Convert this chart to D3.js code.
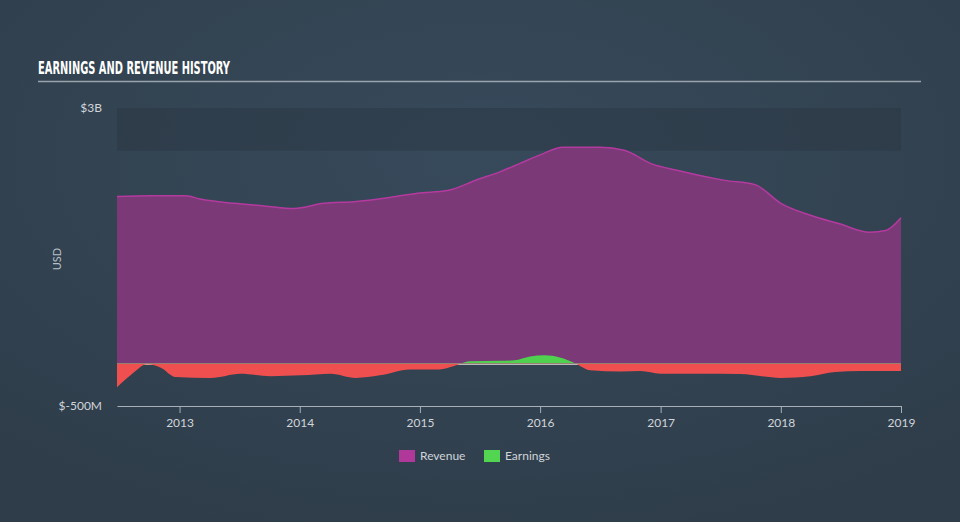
<!DOCTYPE html>
<html>
<head>
<meta charset="utf-8">
<script src="https://cdn.jsdelivr.net/npm/d3@7"></script>
<style>
  html, body { margin: 0; padding: 0; background: #33424f; }
  svg { display: block; }
</style>
</head>
<body>
<div id="plot"></div>
<script>
const width = 960
const height = 522
const margin = ({top: 108, right: 58, bottom: 116, left: 117})

// revenue history (USD billions)
const revenueDates = ["2012-06-25","2012-10-05","2013-01-20","2013-03-05","2013-06-15","2013-09-15","2013-12-15",
  "2014-03-15","2014-06-15","2014-10-01","2014-12-25","2015-03-25","2015-06-25","2015-09-01","2015-11-01",
  "2016-01-01","2016-03-10","2016-07-01","2016-09-15","2016-12-01","2017-03-01","2017-07-15","2017-10-15",
  "2018-01-01","2018-04-01","2018-06-28","2018-09-28","2018-11-15","2019-01-01"]
const revenueValues = [1.96,1.97,1.97,1.93,1.88,1.85,1.82,
  1.88,1.90,1.95,2.00,2.03,2.16,2.25,2.35,
  2.45,2.54,2.54,2.50,2.35,2.26,2.15,2.10,
  1.88,1.74,1.64,1.54,1.56,1.71]

// earnings history (USD billions)
const earningsDates = ["2012-06-25","2012-08-05","2012-09-25","2012-11-05","2012-12-20","2013-04-05","2013-07-05",
  "2013-10-05","2014-01-05","2014-04-05","2014-06-20","2014-09-01","2014-12-01","2015-03-01","2015-04-15",
  "2015-06-01","2015-09-01","2015-10-15","2015-12-01","2016-01-15","2016-03-01","2016-04-15","2016-06-01",
  "2016-09-01","2016-11-01","2017-01-01","2017-05-01","2017-08-30","2018-01-01","2018-04-01","2018-06-15",
  "2018-08-30","2019-01-01"]
const earningsValues = [-0.28,-0.14,-0.01,-0.05,-0.16,-0.17,-0.12,
  -0.15,-0.14,-0.12,-0.17,-0.14,-0.07,-0.07,-0.03,
  0.025,0.03,0.036,0.08,0.095,0.07,0.005,-0.08,
  -0.095,-0.09,-0.12,-0.12,-0.125,-0.17,-0.15,-0.10,
  -0.09,-0.09]

const yTickValues = [3, -0.5]
const yTickLabels = ["$3B", "$-500M"]
const xTickYears = [2013, 2014, 2015, 2016, 2017, 2018, 2019]

const parse = d3.timeParse("%Y-%m-%d")
const revenue = revenueDates.map((d, i) => ({date: parse(d), value: revenueValues[i]}))
const earnings = earningsDates.map((d, i) => ({date: parse(d), value: earningsValues[i]}))

const x = d3.scaleTime()
  .domain([parse("2012-06-25"), parse("2019-01-01")])
  .range([margin.left, width - margin.right - 1])

const y = d3.scaleLinear()
  .domain([-0.5, 3])
  .range([height - margin.bottom, margin.top])

const svg = d3.select("#plot")
  .append("svg")
  .attr("width", width)
  .attr("height", height)

const defs = svg.append("defs")
const grad = defs.append("radialGradient")
  .attr("id", "bg")
  .attr("cx", "50%").attr("cy", "30%").attr("r", "75%")
grad.append("stop").attr("offset", "0%").attr("stop-color", "#374a5b")
grad.append("stop").attr("offset", "100%").attr("stop-color", "#2f3d4a")

svg.append("rect")
  .attr("width", width).attr("height", height)
  .attr("fill", "url(#bg)")

// title
svg.append("text")
  .attr("x", 38).attr("y", 74)
  .attr("fill", "#ffffff")
  .attr("font-family", "DejaVu Sans Condensed, DejaVu Sans")
  .attr("font-weight", "bold")
  .attr("font-size", "17px")
  .attr("textLength", 192)
  .attr("lengthAdjust", "spacingAndGlyphs")
  .text("EARNINGS AND REVENUE HISTORY")

svg.append("line")
  .attr("x1", 38).attr("x2", 921)
  .attr("y1", 81.5).attr("y2", 81.5)
  .attr("stroke", "#9aa4ad")
  .attr("stroke-width", 1.5)

// darker band at top of plot
svg.append("rect")
  .attr("x", margin.left).attr("y", y(3))
  .attr("width", x.range()[1] - margin.left)
  .attr("height", y(2.5) - y(3))
  .attr("fill", "#2b3946")
  .attr("opacity", 0.55)

// clip paths for positive / negative earnings
defs.append("clipPath").attr("id", "above")
  .append("rect")
  .attr("x", margin.left).attr("y", y(3))
  .attr("width", x.range()[1] - margin.left).attr("height", y(0) - y(3))
defs.append("clipPath").attr("id", "below")
  .append("rect")
  .attr("x", margin.left).attr("y", y(0))
  .attr("width", x.range()[1] - margin.left).attr("height", y(-0.5) - y(0))

const curve = d3.curveMonotoneX

const area = d3.area()
  .curve(curve)
  .x(d => x(d.date))
  .y0(y(0))
  .y1(d => y(d.value))

const line = d3.line()
  .curve(curve)
  .x(d => x(d.date))
  .y(d => y(d.value))

svg.append("path")
  .datum(revenue)
  .attr("fill", "#7b3977")
  .attr("d", area)

svg.append("path")
  .datum(revenue)
  .attr("fill", "none")
  .attr("stroke", "#b43aa0")
  .attr("stroke-width", 1.5)
  .attr("d", line)

// zero line, mostly hidden under the red area
svg.append("line")
  .attr("x1", margin.left).attr("x2", x.range()[1])
  .attr("y1", y(0) + 0.8).attr("y2", y(0) + 0.8)
  .attr("stroke", "#b8b8b8")
  .attr("stroke-width", 1.5)

svg.append("path")
  .datum(earnings)
  .attr("clip-path", "url(#above)")
  .attr("fill", "#4fd14f")
  .attr("d", area)

svg.append("path")
  .datum(earnings)
  .attr("clip-path", "url(#below)")
  .attr("fill", "#ef4f4f")
  .attr("d", area)

// x axis
const xAxis = g => g
  .attr("transform", `translate(0,${y(-0.5)})`)
  .call(d3.axisBottom(x)
    .tickValues(xTickYears.map(yr => new Date(yr, 0, 1)))
    .tickFormat(d3.timeFormat("%Y"))
    .tickSize(7)
    .tickSizeOuter(0))
  .call(g => g.select(".domain").attr("stroke", "#a7b0b9").attr("stroke-width", 1.2))
  .call(g => g.selectAll(".tick line").attr("stroke", "#a7b0b9"))
  .call(g => g.selectAll(".tick text")
    .attr("fill", "#d0d5da")
    .attr("font-family", "Lato, Open Sans, sans-serif")
    .attr("font-size", "12px")
    .attr("dy", "0.9em"))

svg.append("g").call(xAxis)

// y labels
svg.append("g")
  .selectAll("text")
  .data(yTickValues)
  .join("text")
  .attr("x", 102)
  .attr("y", d => y(d) + 4)
  .attr("text-anchor", "end")
  .attr("fill", "#d0d5da")
  .attr("font-family", "Lato, Open Sans, sans-serif")
  .attr("font-size", "12px")
  .text((d, i) => yTickLabels[i])

svg.append("text")
  .attr("transform", "translate(61,259) rotate(-90)")
  .attr("text-anchor", "middle")
  .attr("fill", "#b9c0c7")
  .attr("font-family", "Lato, Open Sans, sans-serif")
  .attr("font-size", "11px")
  .text("USD")

// legend
const legend = [
  {name: "Revenue", color: "#b0389b", x: 399},
  {name: "Earnings", color: "#52d652", x: 484}
]
const lg = svg.append("g")
lg.selectAll("rect")
  .data(legend)
  .join("rect")
  .attr("x", d => d.x).attr("y", 450)
  .attr("width", 16).attr("height", 12)
  .attr("fill", d => d.color)
lg.selectAll("text")
  .data(legend)
  .join("text")
  .attr("x", d => d.x + 21).attr("y", 460)
  .attr("fill", "#d0d5da")
  .attr("font-family", "Lato, Open Sans, sans-serif")
  .attr("font-size", "12px")
  .text(d => d.name)
</script>
</body>
</html>
